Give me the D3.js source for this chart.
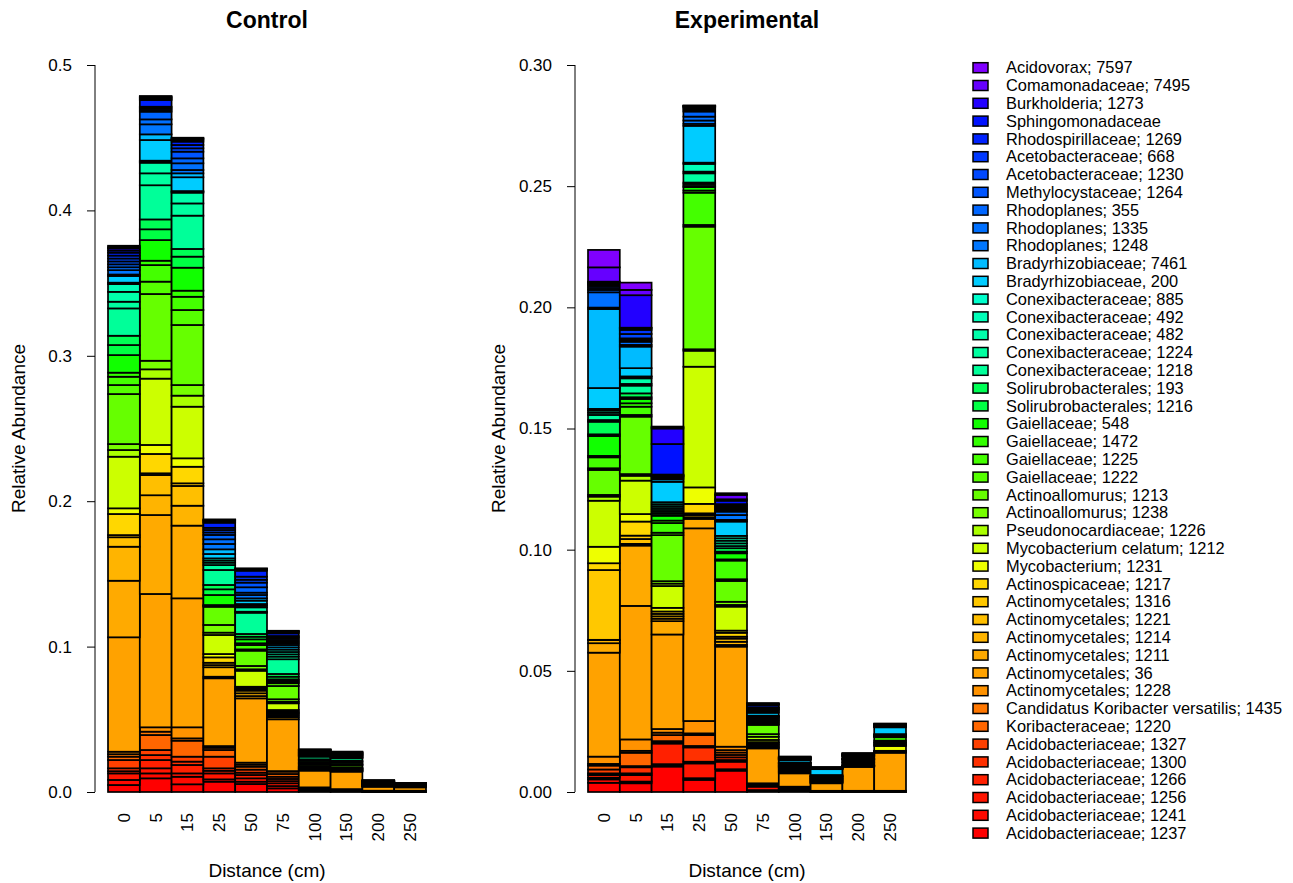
<!DOCTYPE html>
<html>
<head>
<meta charset="utf-8">
<script src="https://cdn.jsdelivr.net/npm/d3@7"></script>
<style>
body { margin: 0; background: #fff; }
text { font-family: "Liberation Sans", Arial, Helvetica, sans-serif; }
</style>
</head>
<body>
<script>
var distances = ["0", "5", "15", "25", "50", "75", "100", "150", "200", "250"];

// stacking order, bottom of the bar first
var taxa = [
  "Acidobacteriaceae; 1237", "Acidobacteriaceae; 1241", "Acidobacteriaceae; 1256",
  "Acidobacteriaceae; 1266", "Acidobacteriaceae; 1300", "Acidobacteriaceae; 1327",
  "Koribacteraceae; 1220", "Candidatus Koribacter versatilis; 1435", "Actinomycetales; 1228",
  "Actinomycetales; 36", "Actinomycetales; 1211", "Actinomycetales; 1214",
  "Actinomycetales; 1221", "Actinomycetales; 1316", "Actinospicaceae; 1217",
  "Mycobacterium; 1231", "Mycobacterium celatum; 1212", "Pseudonocardiaceae; 1226",
  "Actinoallomurus; 1238", "Actinoallomurus; 1213", "Gaiellaceae; 1222",
  "Gaiellaceae; 1225", "Gaiellaceae; 1472", "Gaiellaceae; 548",
  "Solirubrobacterales; 1216", "Solirubrobacterales; 193", "Conexibacteraceae; 1218",
  "Conexibacteraceae; 1224", "Conexibacteraceae; 482", "Conexibacteraceae; 492",
  "Conexibacteraceae; 885", "Bradyrhizobiaceae, 200", "Bradyrhizobiaceae; 7461",
  "Rhodoplanes; 1248", "Rhodoplanes; 1335", "Rhodoplanes; 355",
  "Methylocystaceae; 1264", "Acetobacteraceae; 1230", "Acetobacteraceae; 668",
  "Rhodospirillaceae; 1269", "Sphingomonadaceae", "Burkholderia; 1273",
  "Comamonadaceae; 7495", "Acidovorax; 7597"
];

var colors = [
  "#FF0000", "#FF0A00", "#FF1500", "#FF2000", "#FF3000", "#FF4000",
  "#FF6600", "#FF7700", "#FF9200", "#FFA200", "#FFAA00", "#FFB400",
  "#FFBF00", "#FFC800", "#FFD700", "#EEFF00", "#CCFF00", "#AAFF00",
  "#77FF00", "#66FF00", "#55FF00", "#44FF00", "#33FF00", "#11FF00",
  "#00FF44", "#00FF55", "#00FF99", "#00FFA0", "#00FFAA", "#00FFB8",
  "#00FFCC", "#00CCFF", "#00BBFF", "#0077FF", "#0070FF", "#0066FF",
  "#0055FF", "#0048FF", "#0038FF", "#0022FF", "#0011FF", "#2200FF",
  "#6600FF", "#8000FF"
];

// control: one row per distance, taxa in stacking order
var control = [
  [0.0048,0.0035,0.0045,0.0015,0.002,0.0057,0.0023,0.0017,0.0017,
   0.0787,0.0389,0.0234,0.0065,0.0015,0.0145,0.0039,0.0355,0.0046,0.0041,
   0.0344,0.0062,0.0057,0.0028,0.0121,0.0069,0.0064,0.0188,0.0046,0.0068,0.0053,0.001,
   0.0046,0.001,0.003,0.002,0.002,0.002,0.002,0.002,0.002,0.0015,0.0015,0.0008,0.001],
  [0.0094,0.0034,0.0035,0.0057,0.0034,0.0035,0.0103,0.0023,0.003,
   0.0917,0.0543,0.0136,0.0139,0.0012,0.0133,0.0062,0.0456,0.0064,0.0059,
   0.0459,0.0085,0.0114,0.003,0.0142,0.0074,0.0068,0.0235,0.0082,0.0073,0.0008,0.0006,
   0.0142,0.0039,0.0069,0.0034,0.0053,0.0012,0.0012,0.001,0.0046,0.0008,0.0008,0.0006,0.0006],
  [0.0053,0.0052,0.0023,0.0058,0.0023,0.0034,0.011,0.0016,0.0076,
   0.0887,0.05,0.0137,0.0136,0.0018,0.0114,0.0058,0.0355,0.0076,0.0073,
   0.0413,0.0103,0.0091,0.0042,0.0158,0.0076,0.0053,0.0229,0.0084,0.0074,0.0006,0.0005,
   0.0095,0.0027,0.0023,0.0046,0.0034,0.0046,0.0023,0.0023,0.0023,0.0011,0.0008,0.0004,0.0004],
  [0.0071,0.0016,0.0041,0.0018,0.0017,0.008,0.0046,0.0015,0.0012,
   0.0466,0.0011,0.0065,0.0015,0.0016,0.0037,0.0023,0.0131,0.0016,0.0053,
   0.0125,0.0006,0.0003,0.0003,0.0069,0.0039,0.003,0.0103,0.0034,0.0016,0.0015,0.0015,
   0.003,0.0032,0.0037,0.0032,0.003,0.0017,0.0017,0.0015,0.0035,0.0008,0.0008,0.0004,0.0003],
  [0.0055,0.0016,0.0023,0.0023,0.0016,0.0021,0.002,0.0014,0.0014,
   0.0442,0.0016,0.0019,0.0018,0.0008,0.0008,0.0011,0.011,0.001,0.0023,
   0.0105,0.0009,0.003,0.0012,0.0027,0.0018,0.0019,0.0146,0.0007,0.003,0.0012,0.0011,
   0.0023,0.0016,0.0023,0.0016,0.0037,0.0032,0.002,0.0021,0.0041,0.0006,0.0005,0.0003,0.0002],
  [0.0025,0.0016,0.0019,0.0015,0.0015,0.0015,0.0019,0.0016,0.0004,
   0.0356,0.0014,0.0011,0.0011,0.0008,0.0008,0.0012,0.0046,0.0011,0.0017,
   0.0091,0.0019,0.0009,0.0009,0.0009,0.0018,0.0019,0.0101,0.0018,0.0016,0.0016,0.0016,
   0.0016,0.0016,0.0012,0.001,0.0012,0.0012,0.0008,0.0008,0.0018,0.0008,0.0005,0.0003,0.0002],
  [0.0006,0.0004,0.0004,0.0004,0.0003,0.0003,0.0003,0.0003,0.0002,
   0.0115,0.0004,0.0004,0.0003,0.0003,0.0003,0.0003,0.0005,0.0003,0.0003,
   0.0012,0.0005,0.0005,0.0004,0.0012,0.0005,0.0004,0.0018,0.0004,0.0003,0.0003,0.0002,
   0.0004,0.0003,0.0003,0.0003,0.0003,0.0003,0.0003,0.0003,0.0006,0.0003,0.0002,0.0001,0.0001],
  [0.0004,0.0002,0.0002,0.0002,0.0002,0.0002,0.0002,0.0002,0.0002,
   0.012,0.0003,0.0003,0.0003,0.0003,0.0003,0.0003,0.0003,0.0003,0.0003,
   0.0015,0.0004,0.0004,0.0003,0.0012,0.0005,0.0005,0.0017,0.0003,0.0003,0.0003,0.0003,
   0.0004,0.00025,0.00025,0.00025,0.00025,0.00025,0.00025,0.00025,0.00025,0.00025,0.00025,0.00025,0.00025],
  [0.0001,0.0001,0.0001,0.0001,0.0001,0.0001,0.0001,0.0001,0.0001,
   0.0028,0.0001,0.0001,0.0001,0.0001,0.0001,0.0001,0.0001,0.0001,0.0001,
   0.0005,0.0001,0.0001,0.0001,0.0002,0.0001,0.0001,0.0005,0.0001,0.0001,0.0001,0.0001,
   0.0002,0.0001,0.0001,0.0001,0.0001,0.0001,0.0001,0.0001,0.0001,0.0001,0.0001,0.0001,0.0001],
  [0.0001,0.0001,0.0001,0.0001,0.0001,0.0001,0.0001,0.0001,0.0001,
   0.0023,0.0001,0.0001,0.0001,0.0001,0.0001,0.0001,0.0001,0.0001,0.0001,
   0.0003,0.0001,0.0001,0.0001,0.0001,0.0001,0.0001,0.0003,0.00005,0.00005,0.00005,0.00005,
   0.0001,0.00005,0.00005,0.00005,0.00005,0.00005,0.00005,0.00005,0.00005,0.00005,0.00005,0.00005,0.00005]
];

var experimental = [
  [0.0038,0.0014,0.0007,0.0011,0.0007,0.0016,0.0016,0.0007,0.003,
   0.0429,0.0039,0.0013,0.0001,0.0288,0.0028,0.0068,0.019,0.0017,0.0007,
   0.0103,0.0007,0.0045,0.0006,0.0082,0.0007,0.0052,0.0007,0.0021,0.0009,0.0009,0.0007,
   0.0086,0.0326,0.0006,0.0063,0.001,0.0008,0.0008,0.0006,0.0005,0.0004,0.0003,0.0059,0.0072],
  [0.0036,0.0007,0.0027,0.0007,0.0025,0.0005,0.0055,0.0008,0.0047,
   0.0551,0.0249,0.0007,0.002,0.0014,0.0058,0.0031,0.0138,0.002,0.0007,
   0.0237,0.0007,0.0034,0.0014,0.0018,0.0007,0.0016,0.0032,0.0007,0.0023,0.0007,0.0001,
   0.0034,0.0089,0.0007,0.0013,0.0007,0.0007,0.0018,0.0017,0.0007,0.0002,0.0134,0.0022,0.003],
  [0.0105,0.0005,0.0005,0.0085,0.0005,0.0005,0.0025,0.001,0.0015,
   0.039,0.0055,0.001,0.001,0.001,0.001,0.0015,0.009,0.001,0.001,
   0.019,0.001,0.004,0.001,0.002,0.0008,0.0008,0.0008,0.0008,0.0008,0.0008,0.0008,
   0.0084,0.001,0.0005,0.0005,0.0002,0.0002,0.0002,0.0002,0.0002,0.0126,0.0064,0.0005,0.0003],
  [0.005,0.0007,0.0061,0.0007,0.0059,0.0006,0.0045,0.0007,0.0051,
   0.0795,0.0039,0.0007,0.0009,0.0007,0.0039,0.0068,0.0498,0.0066,0.0006,
   0.0506,0.0007,0.0133,0.0009,0.0014,0.0005,0.0008,0.0006,0.0038,0.0007,0.0032,0.0005,
   0.0152,0.0008,0.0014,0.0016,0.0021,0.0007,0.0007,0.0003,0.0003,0.0002,0.0001,0.0001,0.0001],
  [0.0088,0.0006,0.0031,0.0007,0.0011,0.001,0.001,0.001,0.0014,
   0.0413,0.0007,0.0013,0.0013,0.0008,0.0016,0.0009,0.0099,0.0007,0.0013,
   0.0086,0.0007,0.0077,0.0005,0.0025,0.0007,0.0014,0.0009,0.0011,0.0011,0.001,0.001,
   0.0059,0.0007,0.002,0.0014,0.0007,0.0006,0.0006,0.0006,0.0006,0.0014,0.0006,0.0018,0.0007],
  [0.0004,0.0004,0.0014,0.0002,0.0003,0.0002,0.0003,0.0002,0.0002,
   0.0144,0.0004,0.0005,0.0005,0.0004,0.0005,0.0003,0.0009,0.0013,0.0011,
   0.0038,0.0004,0.0005,0.0004,0.0004,0.0003,0.0004,0.0004,0.0003,0.0003,0.0002,0.0002,
   0.0012,0.0004,0.0005,0.0003,0.0003,0.0003,0.0003,0.0002,0.0009,0.0002,0.0002,0.0002,0.0002],
  [0.0004,0.0003,0.0003,0.0002,0.0002,0.0002,0.0002,0.0002,0.0002,
   0.0055,0.0003,0.0003,0.0003,0.0003,0.0003,0.0003,0.0003,0.0003,0.0001,
   0.0002,0.0002,0.0002,0.0001,0.0002,0.0002,0.0002,0.0003,0.0001,0.0001,0.0001,0.0001,
   0.001,0.00012,0.00012,0.00012,0.00012,0.00012,0.00012,0.00012,0.00012,0.00012,0.00012,0.00012,0.00012],
  [0.0001,0.00005,0.00005,0.00005,0.00005,0.00005,0.00005,0.00005,0.00005,
   0.0031,0.00018,0.00018,0.00018,0.00018,0.00018,0.00018,0.00018,0.00018,0.00018,
   0.0002,0.0001,0.0001,0.0001,0.0004,0.0001,0.0001,0.0001,0.0001,0.0001,0.0002,0.0002,
   0.0024,0.00007,0.00007,0.00007,0.00007,0.00007,0.00007,0.00007,0.00007,0.00007,0.00007,0.00007,0.00007],
  [0.0001,0.00005,0.00005,0.00005,0.00005,0.00005,0.00005,0.00005,0.00005,
   0.0099,0.00008,0.00008,0.00008,0.00008,0.00008,0.00008,0.00008,0.00008,0.00008,
   0.0007,0.0003,0.0002,0.0002,0.0007,0.0001,0.0001,0.0001,0.0001,0.0001,0.0001,0.0001,
   0.0007,0.00012,0.00012,0.00012,0.00012,0.00012,0.00012,0.00012,0.00012,0.00012,0.00012,0.00012,0.00012],
  [0.0001,0.00005,0.00005,0.00005,0.00005,0.00005,0.00005,0.00005,0.00005,
   0.0157,0.0002,0.0002,0.0002,0.0001,0.0001,0.002,0.0004,0.0004,0.0005,
   0.0003,0.0006,0.0014,0.0002,0.0002,0.0001,0.0001,0.0002,0.0001,0.0001,0.0001,0.0002,
   0.0028,0.00013,0.00013,0.00013,0.00013,0.00013,0.00013,0.00013,0.00013,0.00013,0.00013,0.00013,0.00013]
];

var controlTicks = [0, 0.1, 0.2, 0.3, 0.4, 0.5];
var experimentalTicks = [0, 0.05, 0.10, 0.15, 0.20, 0.25, 0.30];

var width = 1293;
var height = 883;

var svg = d3.select("body")
            .append("svg")
            .attr("width", width)
            .attr("height", height);

var chartMaker = function(data, ticks, fmt, title, left){
  var top = 65;
  var bottom = 792;
  var axisX = left;
  var barStart = left + 13;

  var xScale = d3.scaleBand()
                 .domain(distances)
                 .range([barStart, barStart + 318])
                 .padding(0);

  var yScale = d3.scaleLinear()
                 .domain([0, ticks[ticks.length - 1]])
                 .range([bottom, top]);

  var series = d3.stack()
                 .keys(d3.range(taxa.length))
                 (data);

  var g = svg.append("g");

  g.selectAll("g.layer")
   .data(series)
   .enter()
   .append("g")
   .attr("fill", function(d){ return colors[d.key]; })
   .selectAll("rect")
   .data(function(d){ return d; })
   .enter()
   .append("rect")
   .attr("x", function(d, i){ return xScale(distances[i]); })
   .attr("y", function(d){ return yScale(d[1]); })
   .attr("width", xScale.bandwidth())
   .attr("height", function(d){ return yScale(d[0]) - yScale(d[1]); })
   .attr("stroke", "#000")
   .attr("stroke-width", 1.7);

  // y axis, R style
  var yAxis = d3.axisLeft(yScale)
                .tickValues(ticks)
                .tickFormat(d3.format(fmt))
                .tickSize(8)
                .tickPadding(15);

  var ax = g.append("g")
            .attr("transform", "translate(" + axisX + ",0)")
            .call(yAxis);
  ax.select(".domain").remove();
  ax.append("line")
    .attr("x1", 0).attr("x2", 0)
    .attr("y1", yScale(0)).attr("y2", yScale(ticks[ticks.length - 1]))
    .attr("stroke", "#000");
  ax.selectAll(".tick line").attr("stroke", "#000");
  ax.selectAll(".tick text")
    .attr("font-size", 17)
    .attr("fill", "#000")
    .style("font-family", "Liberation Sans, Arial, sans-serif");

  // distance labels
  g.selectAll("text.dist")
   .data(distances)
   .enter()
   .append("text")
   .attr("class", "dist")
   .attr("transform", function(d){
     return "translate(" + (xScale(d) + xScale.bandwidth() / 2) + ",813) rotate(-90)";
   })
   .attr("text-anchor", "end")
   .attr("dy", "0.35em")
   .attr("font-size", 17)
   .text(function(d){ return d; });

  var mid = axisX + 172;

  g.append("text")
   .attr("x", mid)
   .attr("y", 28)
   .attr("text-anchor", "middle")
   .attr("font-size", 23)
   .attr("font-weight", "bold")
   .text(title);

  g.append("text")
   .attr("x", mid)
   .attr("y", 877)
   .attr("text-anchor", "middle")
   .attr("font-size", 19)
   .text("Distance (cm)");

  g.append("text")
   .attr("transform", "translate(" + (axisX - 70) + "," + ((top + bottom) / 2) + ") rotate(-90)")
   .attr("text-anchor", "middle")
   .attr("font-size", 19)
   .text("Relative Abundance");
};

chartMaker(control, controlTicks, ".1f", "Control", 95);
chartMaker(experimental, experimentalTicks, ".2f", "Experimental", 575);

// legend, top entry is the last taxon
var legendOrder = d3.range(taxa.length).reverse();
var legend = svg.append("g");
var rows = legend.selectAll("g")
                 .data(legendOrder)
                 .enter()
                 .append("g")
                 .attr("transform", function(d, i){
                   return "translate(973," + (67.7 + i * 17.8) + ")";
                 });
rows.append("rect")
    .attr("x", 0)
    .attr("y", -5)
    .attr("width", 15)
    .attr("height", 10)
    .attr("fill", function(d){ return colors[d]; })
    .attr("stroke", "#000")
    .attr("stroke-width", 1.5);
rows.append("text")
    .attr("x", 33)
    .attr("dy", "0.35em")
    .attr("font-size", 16.4)
    .text(function(d){ return taxa[d]; });
</script>
</body>
</html>
